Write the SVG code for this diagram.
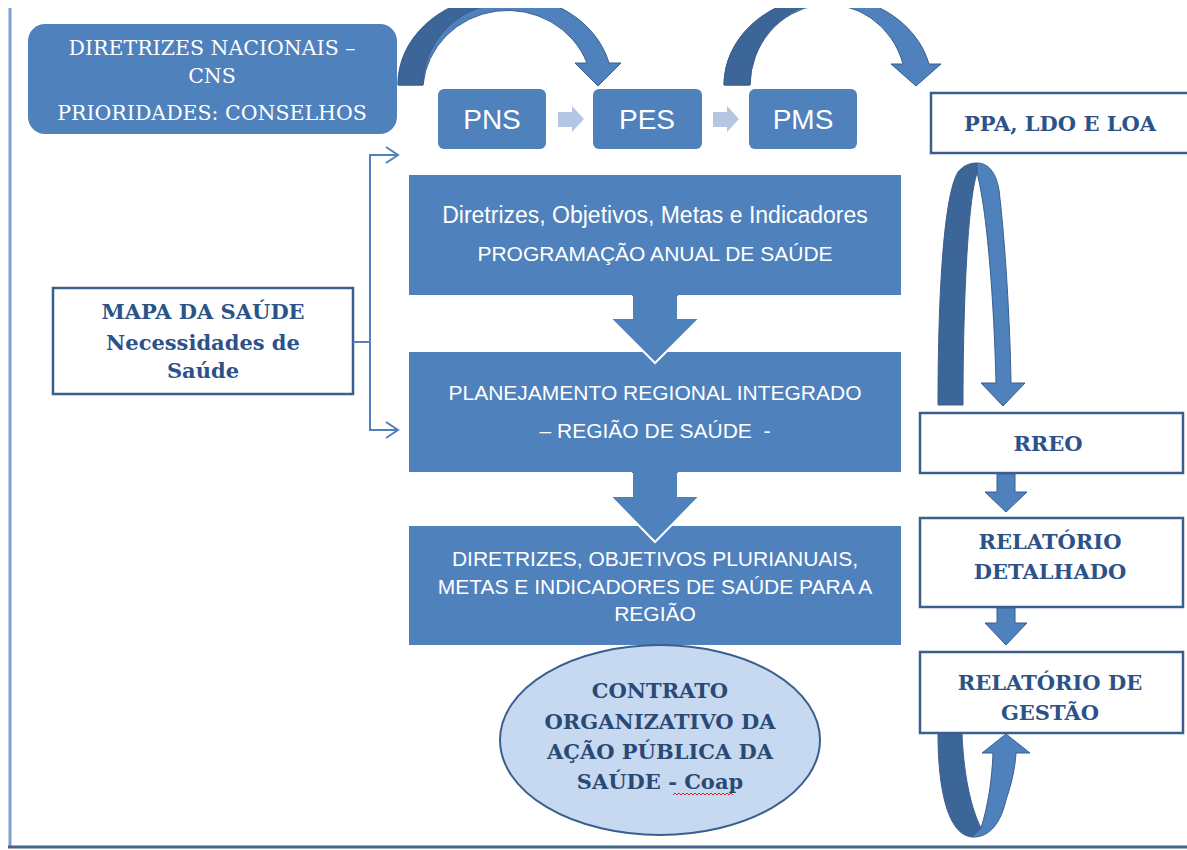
<svg xmlns="http://www.w3.org/2000/svg" width="1187" height="850" viewBox="0 0 1187 850">
<style>
.blue{fill:#4f81bd}
.rbox{fill:#ffffff;stroke:#3a5f8e;stroke-width:2.5}
.wt{fill:#ffffff;font-family:"Liberation Sans",Arial,sans-serif;text-anchor:middle}
.st{fill:#ffffff;font-family:"DejaVu Serif","Liberation Serif",serif;font-size:20.5px;text-anchor:middle}
.bt{fill:#2c5288;font-family:"DejaVu Serif","Liberation Serif",serif;font-size:21px;font-weight:bold;text-anchor:middle}
.ct{fill:#2a4a75}
.light{fill:#4f81bd;stroke:#3a5f8e;stroke-width:1}
.dark{fill:#3d6698;stroke:#3a5f8e;stroke-width:1}
.small{fill:#b4c6e2}
.brk{fill:none;stroke:#4f81bd;stroke-width:2}
</style>
<defs>
<clipPath id="topclip"><rect x="0" y="8" width="1187" height="842"/></clipPath>
</defs>

<!-- frame -->
<line x1="10" y1="8" x2="10" y2="847" stroke="#7f9fcf" stroke-width="3"/>
<line x1="8" y1="847" x2="1187" y2="847" stroke="#45648c" stroke-width="3"/>

<g id="diretrizes-nacionais">
<rect x="28" y="24" width="369" height="110" rx="17" class="blue"/>
<text class="st" x="212" y="55">DIRETRIZES NACIONAIS –</text>
<text class="st" x="212" y="83">CNS</text>
<text class="st" x="212" y="120">PRIORIDADES: CONSELHOS</text>
</g>

<g id="pns">
<rect x="438" y="89" width="108" height="60" rx="6" class="blue"/>
<text class="wt" x="492" y="129" font-size="28">PNS</text>
</g>
<g id="pes">
<rect x="593" y="89" width="109" height="60" rx="6" class="blue"/>
<text class="wt" x="647" y="129" font-size="28">PES</text>
</g>
<g id="pms">
<rect x="749" y="89" width="108" height="60" rx="6" class="blue"/>
<text class="wt" x="803" y="129" font-size="28">PMS</text>
</g>

<g id="ppa">
<rect x="931" y="93" width="260" height="60" class="rbox"/>
<text class="bt" x="1060" y="131">PPA, LDO E LOA</text>
</g>

<g id="mapa">
<rect x="53" y="288" width="300" height="106" class="rbox"/>
<text class="bt" x="203" y="319">MAPA DA SAÚDE</text>
<text class="bt" x="203" y="350">Necessidades de</text>
<text class="bt" x="203" y="378">Saúde</text>
</g>

<g id="programacao">
<rect x="409" y="175" width="492" height="120" class="blue"/>
<text class="wt" x="655" y="223" font-size="23">Diretrizes, Objetivos, Metas e Indicadores</text>
<text class="wt" x="655" y="261" font-size="21">PROGRAMAÇÃO ANUAL DE SAÚDE</text>
</g>

<g id="planejamento">
<rect x="409" y="352" width="492" height="120" class="blue"/>
<text class="wt" x="655" y="400" font-size="21">PLANEJAMENTO REGIONAL INTEGRADO</text>
<text class="wt" x="655" y="438" font-size="21" style="white-space:pre">– REGIÃO DE SAÚDE  -</text>
</g>

<g id="diretrizes-regiao">
<rect x="409" y="526" width="492" height="119" class="blue"/>
<text class="wt" x="655" y="566" font-size="21">DIRETRIZES, OBJETIVOS PLURIANUAIS,</text>
<text class="wt" x="655" y="594" font-size="21">METAS E INDICADORES DE SAÚDE PARA A</text>
<text class="wt" x="655" y="621" font-size="21">REGIÃO</text>
</g>

<g id="coap">
<ellipse cx="660" cy="740" rx="160" ry="95" fill="#c6d9f1" stroke="#3a5f8e" stroke-width="2"/>
<text class="bt ct" x="660" y="698">CONTRATO</text>
<text class="bt ct" x="660" y="729">ORGANIZATIVO DA</text>
<text class="bt ct" x="660" y="759">AÇÃO PÚBLICA DA</text>
<text class="bt ct" x="660" y="789">SAÚDE - Coap</text>
<path d="M673,795 l2,-2 l2,2 l2,-2 l2,2 l2,-2 l2,2 l2,-2 l2,2 l2,-2 l2,2 l2,-2 l2,2 l2,-2 l2,2 l2,-2 l2,2 l2,-2 l2,2 l2,-2 l2,2 l2,-2 l2,2 l2,-2 l2,2 l2,-2 l2,2 l2,-2 l2,2 l2,-2 l2,2" fill="none" stroke="#e02020" stroke-width="1"/>
</g>

<g id="rreo">
<rect x="920" y="413" width="263" height="60" class="rbox"/>
<text class="bt" x="1048" y="451">RREO</text>
</g>
<g id="relatorio-detalhado">
<rect x="920" y="518" width="263" height="89" class="rbox"/>
<text class="bt" x="1050" y="549">RELATÓRIO</text>
<text class="bt" x="1050" y="579">DETALHADO</text>
</g>
<g id="relatorio-gestao">
<rect x="920" y="652" width="263" height="81" class="rbox"/>
<text class="bt" x="1050" y="690">RELATÓRIO DE</text>
<text class="bt" x="1050" y="720">GESTÃO</text>
</g>

<g id="connectors">
<!-- top curved arrows -->
<g clip-path="url(#topclip)">
<path class="light" d="M398,85 A107,89 0 0 1 609,63 L621,63 L598,86 L575,63 L587,63 A85,82 0 0 0 423,85 Z"/>
<path class="dark" d="M398,85 A107,89 0 0 1 505,-4 L505,3 A85,82 0 0 0 423,85 Z"/>
<path class="light" d="M724,85 A104,89 0 0 1 929,64 L941,64 L916,86 L891,64 L903,64 A78,82 0 0 0 750,85 Z"/>
<path class="dark" d="M724,85 A104,89 0 0 1 828,-4 L828,3 A78,82 0 0 0 750,85 Z"/>
</g>
<!-- small arrows between PNS PES PMS -->
<polygon class="small" points="558,112 572,112 572,106 584,119 572,132 572,127 558,127"/>
<polygon class="small" points="713,112 727,112 727,106 739,119 727,132 727,127 713,127"/>
<!-- bracket from mapa -->
<polyline class="brk" points="353,342 370,342"/>
<polyline class="brk" points="398,155 370,155 370,430 398,430"/>
<polyline class="brk" points="386,147 398,155 386,163"/>
<polyline class="brk" points="386,422 398,430 386,438"/>
<!-- big down arrows -->
<polygon class="blue" points="632,295 678,295 678,318 700,318 655,363 610,318 632,318"/>
<path d="M632,296 L632,318 L610,318 L655,363 L700,318 L678,318 L678,296" fill="none" stroke="#ffffff" stroke-width="2"/>
<polygon class="blue" points="632,472 678,472 678,496 700,496 655,542 610,496 632,496"/>
<path d="M632,473 L632,496 L610,496 L655,542 L700,496 L678,496 L678,473" fill="none" stroke="#ffffff" stroke-width="2"/>
<!-- loop from PPA to RREO -->
<path class="dark" d="M938,405 C938,290 944,195 958,172 C964,165 970,163 977,163 L977,173 C968,200 963,300 963,405 Z"/>
<path class="light" d="M977,163 C988,163 996,172 999,190 C1005,240 1010,320 1011,383 L1025,383 L1003,406 L981,383 L996,383 C994,300 987,210 977,173 Z"/>
<!-- down arrows right column -->
<polygon class="light" points="997,474 1015,474 1015,492 1027,492 1006,512 985,492 997,492"/>
<polygon class="light" points="997,608 1015,608 1015,623 1027,623 1006,645 985,623 997,623"/>
<!-- loop under gestao -->
<path class="dark" d="M938,734 C938,790 948,835 972,837 L981,828 C972,810 964,780 962,734 Z"/>
<path class="light" d="M972,837 C990,838 1001,822 1006,800 C1011,785 1015,770 1016,753 L1030,753 L1006,734 L982,753 L993,753 C992,780 988,806 981,828 Z"/>
</g>
</svg>
